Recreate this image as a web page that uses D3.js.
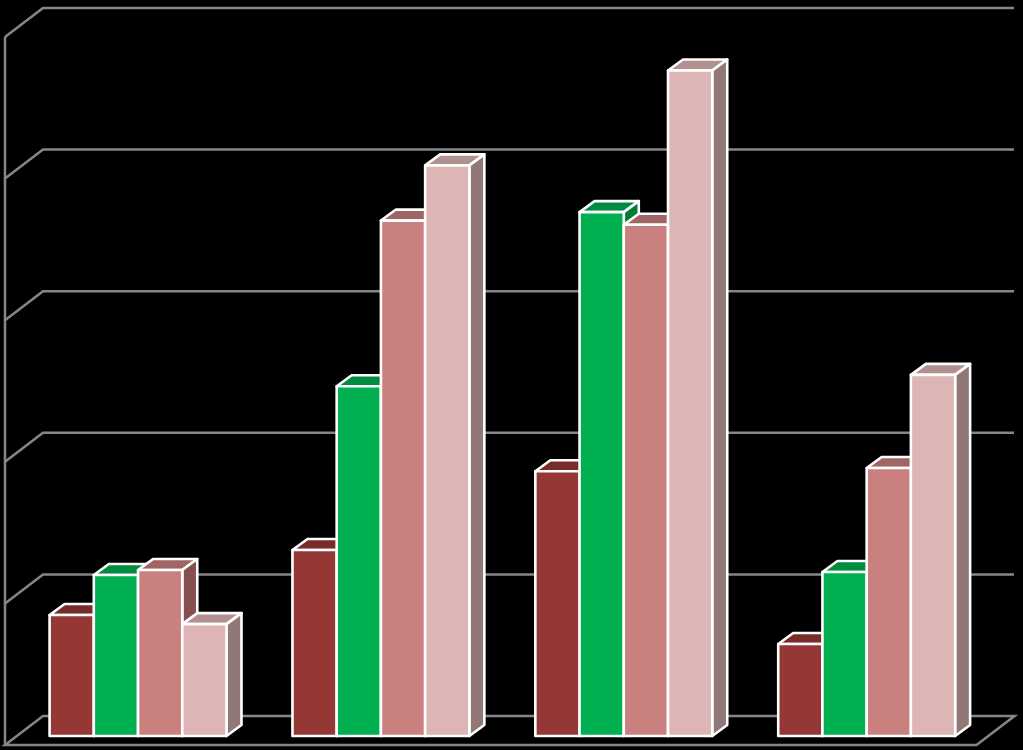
<!DOCTYPE html>
<html><head><meta charset="utf-8">
<script src="https://cdn.jsdelivr.net/npm/d3@7/dist/d3.min.js"></script>
<style>html,body{margin:0;padding:0;background:#000;overflow:hidden}svg{display:block}</style>
</head><body><svg id="c" width="1023" height="750"></svg>
<script>
const categories = ["A", "B", "C", "D"];
const seriesNames = ["S1", "S2", "S3", "S4"];
const s1 = [0.855, 1.314, 1.87, 0.65];
const s2 = [1.137, 2.47, 3.70, 1.158];
const s3 = [1.172, 3.64, 3.61, 1.893];
const s4 = [0.79, 4.03, 4.70, 2.55];
const seriesValues = [s1, s2, s3, s4];
const frontColors = ["#953735", "#00B050", "#C9807F", "#DCB5B4"];
const topColors = ["#772C2A", "#008C40", "#A06665", "#B09190"];
const sideColors = ["#6F2928", "#007A37", "#85504F", "#917776"];
const yTicks = [0, 1, 2, 3, 4, 5];

const svg = d3.select("#c");
const W = 1023, H = 750;
svg.append("rect").attr("width", W).attr("height", H).attr("fill", "#000");

const y = d3.scaleLinear().domain([0, 5]).range([745, 37]);
const left = 5, right = 976.5, wall = {dx: 38, dy: -29};
const bar = {sx: 11.6, sy: -9, dx: 15, dy: -11};

const grid = svg.append("g").attr("fill", "none").attr("stroke", "#868686").attr("stroke-width", 2.5);
grid.selectAll("path.g").data(yTicks).join("path").attr("class", "g")
  .attr("d", t => t === 0
    ? `M${left},${y(0)}L${left+wall.dx},${y(0)+wall.dy}H${right+wall.dx}L${right},${y(0)}Z`
    : `M${left},${y(t)}L${left+wall.dx},${y(t)+wall.dy}H1014`);
grid.append("line").attr("x1", left).attr("x2", left).attr("y1", y(5)).attr("y2", y(0));

const x0 = d3.scaleBand().domain(categories).range([left + bar.sx, right + bar.sx])
  .paddingInner(66 / 243).paddingOuter(33 / 243);
const x1 = d3.scaleBand().domain(seriesNames).range([0, x0.bandwidth()]);

const rows = [];
categories.forEach((c, i) => seriesNames.forEach((s, j) =>
  rows.push({c, s, j, v: seriesValues[j][i]})));

const g = svg.selectAll("g.bar").data(rows).join("g").attr("class", "bar")
  .attr("stroke", "#fff").attr("stroke-width", 2.6).attr("stroke-linejoin", "round");
const geom = d => ({
  a: x0(d.c) + x1(d.s),
  b: x0(d.c) + x1(d.s) + x1.bandwidth(),
  t: y(d.v) + bar.sy,
  f: y(0) + bar.sy
});
g.append("path").attr("fill", d => topColors[d.j]).attr("d", d => { const p = geom(d);
  return `M${p.a},${p.t}l${bar.dx},${bar.dy}H${p.b+bar.dx}L${p.b},${p.t}Z`; });
g.append("path").attr("fill", d => sideColors[d.j]).attr("d", d => { const p = geom(d);
  return `M${p.b},${p.t}l${bar.dx},${bar.dy}V${p.f+bar.dy}L${p.b},${p.f}Z`; });
g.append("rect").attr("fill", d => frontColors[d.j])
  .attr("x", d => geom(d).a).attr("y", d => geom(d).t)
  .attr("width", x1.bandwidth()).attr("height", d => geom(d).f - geom(d).t);
</script></body></html>
